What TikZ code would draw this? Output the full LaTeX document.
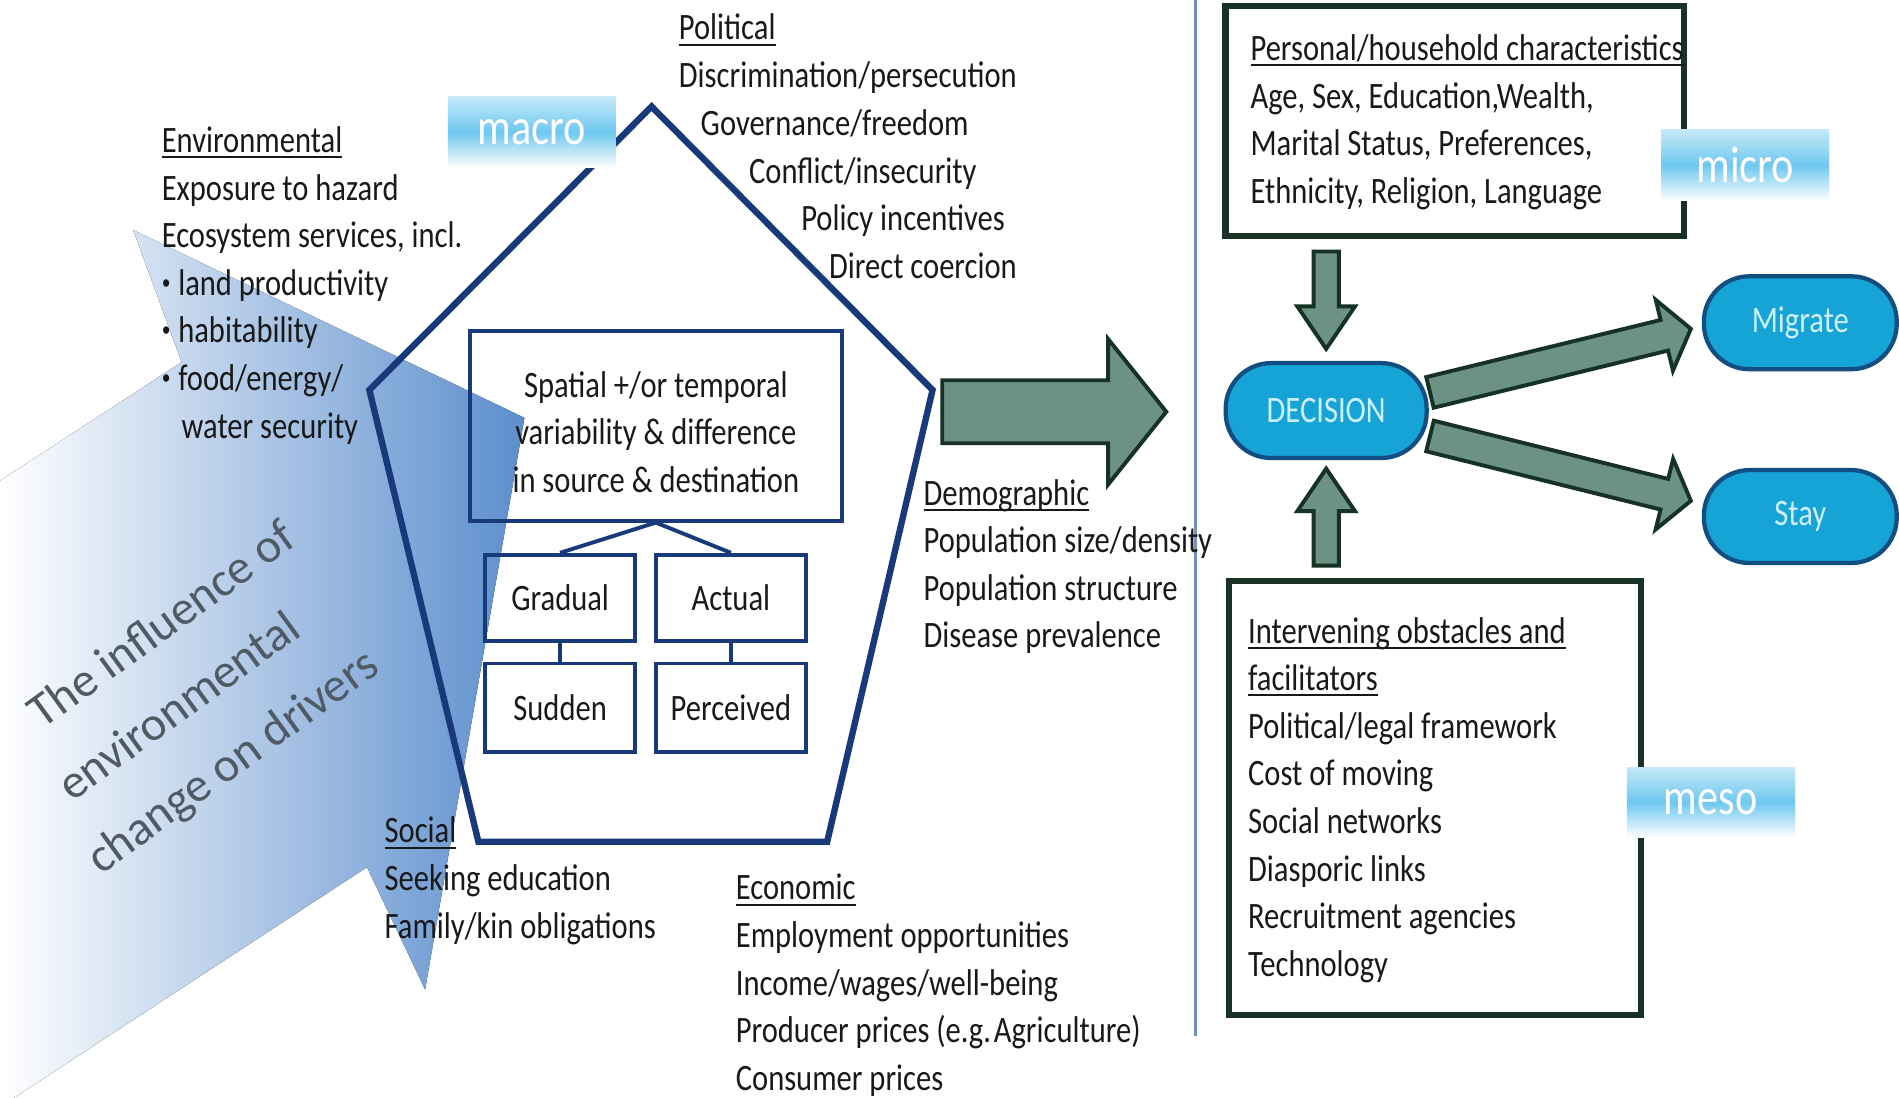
\documentclass[tikz,border=0pt]{standalone}
\usepackage{fontspec}
\setmainfont{Carlito}[FakeStretch=0.82]
\newfontfamily\widefont{Carlito}
\usetikzlibrary{calc,positioning}

\definecolor{ink}{RGB}{25,25,25}
\definecolor{navy}{RGB}{24,58,122}
\definecolor{envblue}{RGB}{92,142,205}
\definecolor{tagblue}{RGB}{110,200,240}
\definecolor{decfill}{RGB}{22,164,214}
\definecolor{decline}{RGB}{18,78,130}
\definecolor{decfont}{RGB}{205,240,252}
\definecolor{arrfill}{RGB}{108,146,134}
\definecolor{arrline}{RGB}{22,50,36}
\definecolor{boxline}{RGB}{24,50,38}
\definecolor{sepline}{RGB}{115,145,185}
\definecolor{txtgray}{RGB}{80,90,100}

\newcommand{\bodyfont}{\fontsize{10.5}{13.4}\selectfont}
% underlined heading, rule cuts through the descenders
\newcommand{\hdr}[1]{\setbox0\hbox{#1}\rlap{\rule[-1.6pt]{\wd0}{0.55pt}}\box0}
% small list bullet
\newcommand{\blt}{\raisebox{0.35ex}{\fontsize{6}{6}\selectfont•}\kern2.2pt}
% block arrow: from, to, shaft half width, head half width, head length
\newcommand{\fatarrow}[5]{%
  \coordinate (fab) at ($(#2)!#5!(#1)$);
  \draw[fatarr] ($(#1)!#3!90:(#2)$) -- ($(fab)!#3!-90:(#1)$) -- ($(fab)!#4!-90:(#1)$)
    -- (#2) -- ($(fab)!#4!90:(#1)$) -- ($(fab)!#3!90:(#1)$) -- ($(#1)!#3!-90:(#2)$) -- cycle;}
% left aligned list, one node per line
\newcommand{\textlines}[4]{%
  \foreach \txtline [count=\idx from 0] in {#4}
    \node[txt] (#1\idx) at (#2,{#3+39.3*\idx}) {\txtline};}

\begin{document}
\begin{tikzpicture}[x=0.012cm, y=-0.012cm,
    txt/.style={anchor=base west, inner sep=0pt, text=ink, font=\bodyfont},
    navybox/.style={draw=navy, line width=1.1pt, inner sep=0pt, text=ink, font=\bodyfont},
    greenbox/.style={draw=boxline, line width=1.8pt},
    pill/.style={draw=decline, line width=1.2pt, fill=decfill, rounded corners=0.45cm,
        text=decfont, font=\bodyfont},
    tag/.style={minimum width=1.66cm, minimum height=0.7cm, top color=tagblue!40!white,
        bottom color=white, middle color=tagblue, text=white, font=\fontsize{14.5}{16}\selectfont},
    fatarr/.style={draw=arrline, fill=arrfill, line width=1.1pt, line join=miter}]

    \useasboundingbox (0,0) rectangle (1568,906);

    % Environmental change arrow
    \coordinate (eb1) at (110,190);
    \coordinate (etip) at (433,345);
    \coordinate (eb2) at (351,817);
    \coordinate (en2) at (303,716);
    \coordinate (es2) at (0,914);
    \coordinate (es1) at (0,397);
    \coordinate (en1) at (150,299);
    \fill[left color=white, right color=envblue] (eb1) -- (etip) -- (eb2) -- (en2)
        -- (es2) -- (es1) -- (en1) -- cycle;
    \foreach \txtline [count=\idx from 0] in {The influence of, environmental, change on drivers}
        \node[rotate=36, anchor=base west, inner sep=0pt, text=txtgray,
              font=\widefont\fontsize{13.6}{16}\selectfont] (infl\idx) at ({35+24*\idx},{603+60*\idx}) {\txtline};

    % Divider
    \draw[sepline, line width=0.7pt] (987,0) -- (987,855);

    % Drivers pentagon
    \coordinate (ptop) at (538,88);
    \coordinate (pright) at (770,322);
    \coordinate (pbr) at (683,695);
    \coordinate (pbl) at (395,695);
    \coordinate (pleft) at (305,322);
    \draw[navy, line width=1.8pt, line join=miter] (ptop) -- (pright) -- (pbr) -- (pbl) -- (pleft) -- cycle;

    \node[navybox, minimum width=3.68cm, minimum height=1.88cm] (spatial) at (541.5,351.5) {};
    \node[align=center, inner sep=0pt, text=ink, font=\bodyfont] (spatialtxt) at ($(spatial.center)+(0,5)$)
        {Spatial +/or temporal\\variability \& difference\\in source \& destination};
    \node[navybox, minimum width=1.48cm, minimum height=0.85cm] (grad) at (462.5,493.5) {Gradual};
    \node[navybox, minimum width=1.48cm, minimum height=0.85cm] (actual) at (603.5,493.5) {Actual};
    \node[navybox, minimum width=1.48cm, minimum height=0.88cm] (sudden) at (462.5,584.5) {Sudden};
    \node[navybox, minimum width=1.48cm, minimum height=0.88cm] (perc) at (603.5,584.5) {Perceived};
    \draw[navy, line width=1.1pt] (spatial.south) -- (grad.north);
    \draw[navy, line width=1.1pt] (spatial.south) -- (actual.north);
    \draw[navy, line width=1.1pt] (grad) -- (sudden);
    \draw[navy, line width=1.1pt] (actual) -- (perc);

    % Driver lists
    \textlines{env}{133}{126}{{\hdr{Environmental}}, Exposure to hazard, {Ecosystem services, incl.},
        {\blt land productivity}, {\blt habitability}, {\blt food/energy/}, {\hspace{5.6pt}water security}}
    \foreach \dx/\txtline [count=\idx from 0] in {0/{\hdr{Political}}, 0/{Discrimination/persecution},
        18/{Governance/freedom}, 58/{Conflict/insecurity}, 101/{Policy incentives}, 124/{Direct coercion}}
        \node[txt] (pol\idx) at (560+\dx,{33+39.4*\idx}) {\txtline};
    \textlines{dem}{762}{417}{{\hdr{Demographic}}, {Population size/density}, Population structure,
        Disease prevalence}
    \textlines{soc}{317}{696}{{\hdr{Social}}, Seeking education, {Family/kin obligations}}
    \textlines{eco}{607}{743}{{\hdr{Economic}}, Employment opportunities, {Income/wages/well-being},
        {Producer prices (e.g.\kern0.8pt Agriculture)}, Consumer prices}

    % Decision side
    \node[greenbox, minimum width=4.54cm, minimum height=2.28cm] (pers) at (1201,100) {};
    \node[greenbox, minimum width=4.08cm, minimum height=4.3cm] (obst) at (1185,659) {};
    \textlines{per}{1032}{50}{{\hdr{Personal/household characteristics}}, {Age, Sex, Education,Wealth,},
        {Marital Status, Preferences,}, {Ethnicity, Religion, Language}}
    \textlines{obs}{1030}{531}{{\hdr{Intervening obstacles and}}, {\hdr{facilitators}},
        {Political/legal framework}, Cost of moving, Social networks, Diasporic links,
        Recruitment agencies, Technology}

    \node[pill, minimum width=1.99cm, minimum height=0.94cm] (dec) at (1095,339) {DECISION};
    \node[pill, minimum width=1.91cm, minimum height=0.92cm] (mig) at (1486.5,266.5) {Migrate};
    \node[pill, minimum width=1.91cm, minimum height=0.92cm] (stay) at (1486.5,426.5) {Stay};

    % Block arrows
    \coordinate (drv) at (778,340);
    \coordinate (drvtip) at (963,340);
    \fatarrow{drv}{drvtip}{0.312cm}{0.72cm}{0.576cm}
    \coordinate (pin) at ($(dec.north |- pers.south)+(0,10)$);
    \coordinate (pout) at ($(dec.north)+(0,-10)$);
    \fatarrow{pin}{pout}{0.125cm}{0.285cm}{0.42cm}
    \coordinate (oin) at ($(dec.south |- obst.north)+(0,-10)$);
    \coordinate (oout) at ($(dec.south)+(0,7)$);
    \fatarrow{oin}{oout}{0.125cm}{0.285cm}{0.42cm}
    \coordinate (dm) at ($(dec.east)+(1,-15)$);
    \coordinate (mi) at ($(mig.west)+(-9,5)$);
    \fatarrow{dm}{mi}{0.156cm}{0.36cm}{0.27cm}
    \coordinate (ds) at ($(dec.east)+(1,21)$);
    \coordinate (st) at ($(stay.west)+(-9,-13)$);
    \fatarrow{ds}{st}{0.156cm}{0.36cm}{0.27cm}

    % Scale tags
    \node[tag] (macro) at (439,109) {macro};
    \node[tag] (micro) at (1441,136.5) {micro};
    \node[tag] (meso) at (1412.5,662.5) {meso};
\end{tikzpicture}
\end{document}
